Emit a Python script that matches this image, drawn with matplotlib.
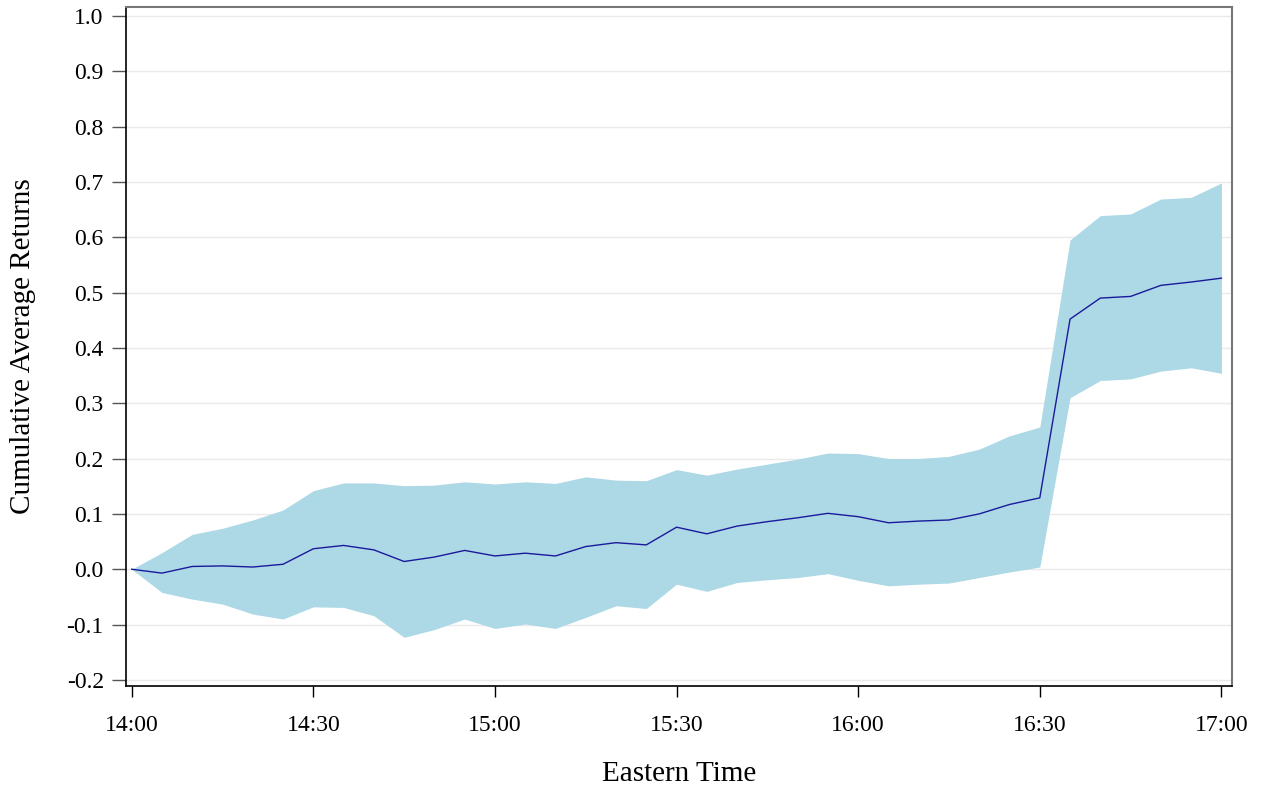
import matplotlib
matplotlib.use('Agg')
import matplotlib.pyplot as plt
import numpy as np

plt.rcParams['font.family'] = ['Liberation Serif', 'DejaVu Serif']

# minutes after 14:00, 5-minute steps
minutes = list(range(0, 181, 5))

mean_ret = [0.000, -0.007, 0.005, 0.006, 0.004, 0.009, 0.037, 0.043, 0.035, 0.014,
            0.022, 0.034, 0.024, 0.029, 0.024, 0.041, 0.048, 0.044, 0.076, 0.064,
            0.078, 0.086, 0.093, 0.101, 0.095, 0.084, 0.087, 0.089, 0.100, 0.117,
            0.129, 0.452, 0.490, 0.493, 0.513, 0.519, 0.526]

upper_ci = [0.000, 0.030, 0.063, 0.074, 0.089, 0.107, 0.142, 0.156, 0.156, 0.151,
            0.152, 0.158, 0.154, 0.158, 0.155, 0.167, 0.161, 0.160, 0.180, 0.170,
            0.181, 0.190, 0.199, 0.210, 0.209, 0.200, 0.200, 0.204, 0.217, 0.241,
            0.257, 0.595, 0.639, 0.642, 0.669, 0.672, 0.698]

lower_ci = [0.000, -0.042, -0.054, -0.063, -0.081, -0.090, -0.068, -0.069, -0.084, -0.123,
            -0.109, -0.090, -0.107, -0.099, -0.107, -0.087, -0.066, -0.071, -0.027, -0.040,
            -0.024, -0.019, -0.015, -0.008, -0.020, -0.030, -0.027, -0.025, -0.015, -0.005,
            0.004, 0.310, 0.341, 0.344, 0.358, 0.364, 0.354]

x_ticks = [0, 30, 60, 90, 120, 150, 180]
x_labels = ['14:00', '14:30', '15:00', '15:30', '16:00', '16:30', '17:00']
y_ticks = np.round(np.arange(-0.2, 1.01, 0.1), 1)

fig = plt.figure(figsize=(12.63, 7.88), dpi=100)
ax = fig.add_axes([126 / 1263, 1 - 686 / 788, (1232 - 126) / 1263, (686 - 7) / 788])

# confidence band and mean path
ax.fill_between(minutes, lower_ci, upper_ci, color='#add8e6', lw=0, zorder=2)
ax.plot(minutes, mean_ret, color='#1a1a9a', lw=1.0, zorder=3)

ax.set_xlim(-0.94, 181.75)
ax.set_ylim(-0.211, 1.016)
ax.set_xticks(x_ticks)
ax.set_xticklabels(x_labels)
ax.set_yticks(y_ticks)
ax.set_yticklabels([f'{v:.1f}' for v in y_ticks])
ax.yaxis.grid(True, color='#eaeaea', lw=1.0, zorder=0)
ax.set_axisbelow(True)

ax.tick_params(axis='both', direction='out', width=1.0, labelsize=17)
ax.tick_params(axis='y', length=10, pad=6, colors='#555555', labelcolor='black')
ax.tick_params(axis='x', length=8, pad=13, colors='black', labelcolor='black')

for side in ['left', 'bottom']:
    ax.spines[side].set_color('black')
    ax.spines[side].set_linewidth(1.2)
for side in ['top', 'right']:
    ax.spines[side].set_color('#777777')
    ax.spines[side].set_linewidth(1.5)

ax.set_xlabel('Eastern Time', fontsize=21, labelpad=18)
ax.set_ylabel('Cumulative Average Returns', fontsize=21, labelpad=22)

fig.savefig('out.png', dpi=100)
